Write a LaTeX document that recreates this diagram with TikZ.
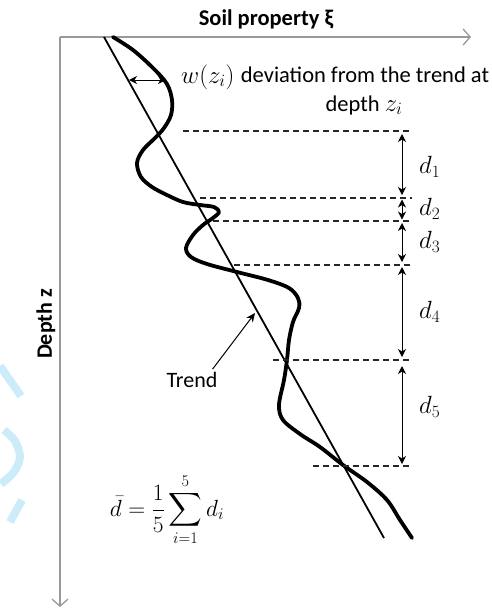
\documentclass[tikz,border=0pt]{standalone}
\usepackage{amsmath}
\usepackage[no-math]{fontspec}
\setmainfont{Carlito}
\usetikzlibrary{arrows.meta}
\begin{document}
\begin{tikzpicture}[x=1pt,y=-1pt,
  axis/.style={draw=black!40, line width=1.3pt, -{Straight Barb[length=7pt,width=16pt,line width=1.3pt]}},
  curve/.style={line width=3.8pt, line cap=round, line join=round},
  trendline/.style={line width=1.8pt},
  level/.style={draw=black!85, line width=1.2pt, dash pattern=on 6pt off 4pt},
  gap/.style={line width=1pt, {Stealth[length=8pt,width=8pt,inset=2.5pt]}-{Stealth[length=8pt,width=8pt,inset=2.5pt]}},
  pointer/.style={line width=1pt, -{Stealth[length=9pt,width=8pt,inset=3pt]}},
  lab/.style={font=\fontsize{22}{26}\selectfont, inner sep=0pt},
  blab/.style={font=\fontsize{22.5}{26}\selectfont\bfseries, inner sep=0pt},
  mlab/.style={font=\fontsize{24}{28}\selectfont, inner sep=0pt},
  wm/.style={draw={rgb,255:red,204;green,236;blue,250}, line width=8pt}
]
\path[use as bounding box] (0,0) rectangle (491,614);

% watermark fragments
\draw[wm] (0,366) -- (21,396);
\draw[wm] plot[smooth] coordinates {(4,430) (15,441) (20,457) (14,472) (1,484)};
\draw[wm] (22,500) -- (10,522);

% axes
\coordinate (O) at (60,37);
\coordinate (Xend) at (471,37);
\coordinate (Zend) at (60,607);
\draw[axis] (O) -- (Xend);
\draw[axis] (O) -- (Zend);
\node[blab] (xlab) at (266,19) {Soil property ξ};
\node[blab, font=\fontsize{22}{26}\selectfont\bfseries, rotate=90] (zlab) at (46,324) {Depth z};

% trend line
\coordinate (T1) at (104,37);
\coordinate (T2) at (384,538);
\draw[trendline] (T1) -- (T2);

% soil property profile
\draw[curve] plot[smooth, tension=0.55] coordinates {
 (113,37) (133,50) (153,68) (167,84) (172,100) (171,115) (164,128) (155,138)
 (143,150) (137,163) (141,177) (152,187) (167,195) (183,202) (200,205) (214,207)
 (219,212) (213,218) (203,225) (193,235) (186,248) (191,257) (207,264) (237,272)
 (268,280) (289,288) (298,298) (299,308) (293,322) (289,340) (287,360) (284,380)
 (279,405) (283,420) (300,434) (320,447) (343,465) (367,482) (387,500) (400,520) (412,538)};

% levels
\foreach \n/\s/\y in {1/183/131, 2/200/198, 3/213/221, 4/234/265, 5/273/360, 6/313/466}{
  \coordinate (Ls\n) at (\s,\y);
  \coordinate (Le\n) at (412,\y);
  \coordinate (A\n) at (402,\y);
  \draw[level] (Ls\n) -- (Le\n);
}
\draw[gap, shorten <=3pt, shorten >=3pt] (A1) -- (A2);
\draw[gap, shorten <=1.5pt, shorten >=1.5pt] (A2) -- (A3);
\draw[gap, shorten <=2pt, shorten >=3pt] (A3) -- (A4);
\draw[gap, shorten <=2pt, shorten >=3pt] (A4) -- (A5);
\draw[gap, shorten <=6pt, shorten >=2pt] (A5) -- (A6);

\node[mlab, anchor=west] (d1) at (419,167) {$d_1$};
\node[mlab, anchor=west] (d2) at (419,209) {$d_2$};
\node[mlab, anchor=west] (d3) at (419,242) {$d_3$};
\node[mlab, anchor=west] (d4) at (419,312) {$d_4$};
\node[mlab, anchor=west] (d5) at (419,407) {$d_5$};

% deviation
\coordinate (w1) at (129,80);
\coordinate (w2) at (166,80);
\draw[gap] (w1) -- (w2);
\node[mlab, anchor=base west] (wz) at (181,83) {$w(z_i)$};
\node[lab, font=\fontsize{22.5}{27}\selectfont, anchor=base] (dev1) at (365,82) {deviation from the trend at};
\node[lab, font=\fontsize{22.5}{27}\selectfont, anchor=base] (dev2) at (364,111) {depth {\fontsize{24}{28}\selectfont$z_i$}};

% trend label
\node[lab] (trend) at (192,380) {Trend};
\coordinate (tp) at (255,313);
\draw[pointer] (trend.north east) ++(-5,-3) coordinate (ts) (ts) -- (tp);

% formula
\node[mlab, scale=0.94] (formula) at (167,510) {$\displaystyle \bar d = \frac{1}{5}\sum_{i=1}^{5} d_i$};
\end{tikzpicture}
\end{document}
